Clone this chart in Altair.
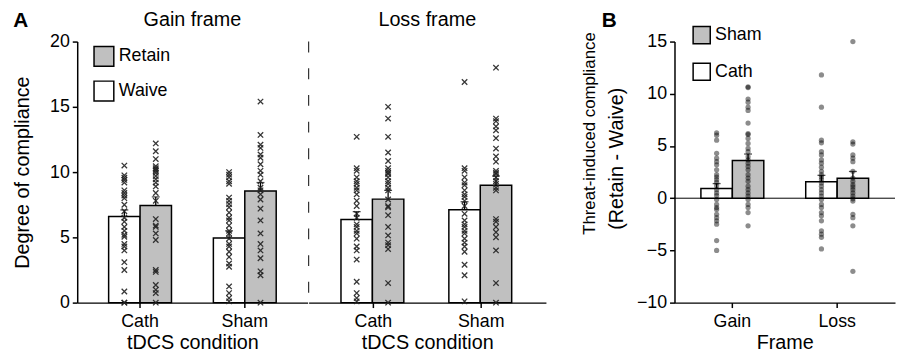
import altair as alt
import pandas as pd

FONT = "Liberation Sans"
GRAY = "#c0c0c0"
XSHAPE = "M-1,-1L1,1M-1,1L1,-1"

# ---------------- Panel A data ----------------
A_frame = ["Gain", "Gain", "Gain", "Gain", "Loss", "Loss", "Loss", "Loss"]
A_cond = ["Cath", "Cath", "Sham", "Sham", "Cath", "Cath", "Sham", "Sham"]
A_choice = ["Waive", "Retain", "Waive", "Retain", "Waive", "Retain", "Waive", "Retain"]
A_mean = [6.6, 7.45, 4.95, 8.55, 6.36, 7.93, 7.12, 9.0]
A_se = [0.5, 0.65, 0.55, 0.65, 0.61, 0.67, 0.61, 0.7]

gain_cath_waive = [10.5, 9.75, 9.57, 9.4, 9.2, 8.6, 8.4, 8.2, 8.0, 7.5, 7.0, 6.5, 6.2, 5.8, 5.5, 5.2, 5.05, 4.5, 4.3, 4.0, 3.1, 2.5, 0.85, 0.0, 0.0]
gain_cath_retain = [12.2, 11.6, 11.0, 10.45, 10.3, 10.2, 10.1, 9.95, 9.7, 9.45, 9.2, 8.9, 8.4, 7.8, 6.4, 5.9, 5.8, 5.3, 4.8, 2.5, 2.35, 1.35, 0.98, 0.73, 0.0]
gain_sham_waive = [10.0, 9.8, 9.6, 9.3, 9.1, 8.05, 7.8, 7.55, 7.3, 6.9, 6.5, 6.3, 5.9, 5.5, 5.3, 4.9, 4.5, 4.3, 3.9, 3.5, 3.0, 2.75, 1.24, 0.73, 0.35, 0.1]
gain_sham_retain = [15.4, 12.85, 12.1, 11.85, 11.35, 11.1, 10.6, 10.1, 9.8, 9.3, 8.8, 8.6, 8.3, 7.9, 7.2, 6.3, 5.3, 4.5, 4.0, 3.4, 2.4, 2.1, 0.0]
loss_cath_waive = [12.7, 10.3, 10.1, 9.6, 9.3, 9.1, 8.8, 8.6, 8.3, 7.8, 7.4, 6.8, 6.5, 6.0, 5.8, 5.5, 5.3, 4.9, 4.3, 4.0, 3.3, 1.6, 0.73, 0.35, 0.1]
loss_cath_retain = [15.0, 14.1, 12.7, 11.5, 10.85, 10.3, 10.1, 9.95, 9.85, 9.6, 9.3, 9.1, 8.8, 8.6, 7.9, 7.4, 7.3, 6.7, 5.8, 5.15, 4.6, 4.4, 4.1, 1.5, 0.0]
loss_sham_waive = [16.9, 10.3, 10.1, 9.6, 9.2, 9.0, 8.6, 8.3, 8.1, 7.8, 7.4, 6.8, 6.3, 6.0, 5.8, 5.5, 5.3, 4.9, 4.6, 4.3, 3.9, 2.9, 2.1, 0.1]
loss_sham_retain = [18.0, 14.1, 13.9, 13.5, 13.2, 12.6, 11.8, 11.2, 10.8, 10.1, 9.95, 9.85, 9.6, 9.3, 9.1, 8.8, 8.6, 6.4, 6.2, 5.8, 5.4, 5.0, 4.0, 1.5, 0.0]
A_points = [gain_cath_waive, gain_cath_retain, gain_sham_waive, gain_sham_retain,
            loss_cath_waive, loss_cath_retain, loss_sham_waive, loss_sham_retain]

# ---------------- Panel B data ----------------
B_frame = ["Gain", "Gain", "Loss", "Loss"]
B_cond = ["Cath", "Sham", "Cath", "Sham"]
B_mean = [0.92, 3.6, 1.58, 1.9]
B_se = [0.48, 0.63, 0.61, 0.66]

b_gain_cath = [6.26, 6.04, 5.56, 4.3, 3.83, 3.5, 3.2, 2.72, 2.25, 2.03, 1.77, 1.52, 1.2, 0.82, 0.51, 0.25, -0.12, -0.6, -0.9, -1.07, -1.54, -1.86, -2.17, -2.49, -4.06, -5.0]
b_gain_sham = [10.67, 10.6, 9.5, 9.2, 8.72, 8.4, 7.2, 6.19, 6.1, 5.72, 5.25, 4.77, 4.46, 3.98, 3.67, 3.35, 3.04, 2.72, 2.25, 1.93, 1.62, 1.15, 0.83, 0.51, 0.2, -0.12, -0.6, -0.9, -1.38, -2.64]
b_loss_cath = [11.8, 8.72, 5.56, 5.3, 4.46, 4.14, 3.67, 3.35, 2.97, 2.57, 2.25, 2.03, 1.77, 1.46, 1.15, 0.82, 0.51, 0.2, -0.12, -0.6, -0.9, -1.38, -1.69, -2.17, -3.12, -3.44, -3.75, -4.86]
b_loss_sham = [15.0, 5.4, 5.18, 4.14, 3.83, 3.5, 2.57, 1.93, 1.62, 1.3, 1.08, 0.82, 0.51, 0.2, -0.06, -0.27, -1.54, -1.86, -2.64, -7.0]
B_points = [b_gain_cath, b_gain_sham, b_loss_cath, b_loss_sham]

# ---------------- tables ----------------
dfA = pd.DataFrame({"frame": A_frame, "cond": A_cond, "choice": A_choice,
                    "mean": A_mean, "se": A_se})
dfA["top"] = dfA["mean"] + dfA["se"]
ptsA = pd.DataFrame([{"frame": f, "cond": c, "choice": ch, "value": v}
                     for f, c, ch, vals in zip(A_frame, A_cond, A_choice, A_points)
                     for v in vals])

dfB = pd.DataFrame({"frame": B_frame, "cond": B_cond, "mean": B_mean, "se": B_se})
dfB["top"] = dfB["mean"] + dfB["se"]
ptsB = pd.DataFrame([{"frame": f, "cond": c, "value": v}
                     for f, c, vals in zip(B_frame, B_cond, B_points)
                     for v in vals])

H = 264
BW = 223


def label_layer(text, x, y, size=21, weight="bold", angle=0):
    return alt.Chart(pd.DataFrame({"t": [text]})).mark_text(
        font=FONT, fontSize=size, fontWeight=weight, angle=angle,
        align="center", baseline="middle", color="black"
    ).encode(text="t:N", x=alt.value(x), y=alt.value(y))


def panel_a(frame, width, first):
    bars = dfA[dfA.frame == frame]
    pts = ptsA[ptsA.frame == frame]
    xenc = alt.X("cond:N", sort=["Cath", "Sham"],
                 scale=alt.Scale(domain=["Cath", "Sham"], paddingInner=0.4, paddingOuter=0.3),
                 axis=alt.Axis(title="tDCS condition", labelAngle=0, labelPadding=5,
                               titlePadding=2))
    xo = alt.XOffset("choice:N", sort=["Waive", "Retain"],
                     scale=alt.Scale(domain=["Waive", "Retain"]))
    yscale = alt.Scale(domain=[0, 20], nice=False)
    if first:
        yaxis = alt.Axis(title="Degree of compliance", values=[0, 5, 10, 15, 20],
                         labelPadding=3, titlePadding=17)
        legend = alt.Legend(title=None, orient="none", legendX=16, legendY=4,
                            symbolType="square", symbolSize=400,
                            symbolStrokeColor="black", symbolStrokeWidth=1.5,
                            symbolOpacity=1, labelFontSize=18, labelOffset=4,
                            rowPadding=9, padding=0, labelFont=FONT)
    else:
        yaxis = None
        legend = None

    def Y(field):
        return alt.Y(f"{field}:Q", scale=yscale, axis=yaxis)

    bar = alt.Chart(bars).mark_bar(stroke="black", strokeWidth=1.5).encode(
        x=xenc, xOffset=xo, y=Y("mean"),
        fill=alt.Fill("choice:N", scale=alt.Scale(domain=["Retain", "Waive"],
                                                  range=[GRAY, "white"]),
                      legend=legend))
    err = alt.Chart(bars).mark_rule(color="black", strokeWidth=1.3).encode(
        x=xenc, xOffset=xo, y=Y("mean"), y2="top:Q")
    cap = alt.Chart(bars).mark_tick(color="black", thickness=1.3, size=8).encode(
        x=xenc, xOffset=xo, y=Y("top"))
    dots = alt.Chart(pts).mark_point(shape=XSHAPE, filled=False, stroke="#222222",
                                     strokeWidth=1.3, size=30, opacity=0.9).encode(
        x=xenc, xOffset=xo, y=Y("value"))
    layers = [bar, err, cap, dots,
              label_layer(f"{frame} frame", width / 2, -22, size=20, weight="normal")]
    if first:
        layers.append(label_layer("A", -57, -21))
    else:
        layers.insert(0, alt.Chart(pd.DataFrame({"a": [0]})).mark_rule(
            strokeDash=[11, 16], color="#333333", strokeWidth=1.2).encode(
            x=alt.value(0), y=alt.value(0), y2=alt.value(H)))
    return alt.layer(*layers).properties(width=width, height=H)


def panel_b():
    xenc = alt.X("frame:N", sort=["Gain", "Loss"],
                 scale=alt.Scale(domain=["Gain", "Loss"], paddingInner=0.4,
                                 paddingOuter=0.252),
                 axis=alt.Axis(title="Frame", labelAngle=0, labelPadding=5, titlePadding=2))
    xo = alt.XOffset("cond:N", sort=["Cath", "Sham"],
                     scale=alt.Scale(domain=["Cath", "Sham"]))
    yscale = alt.Scale(domain=[-10, 15], nice=False)
    yaxis = alt.Axis(title="(Retain - Waive)", values=[-10, -5, 0, 5, 10, 15],
                     labelPadding=3, titlePadding=10, titleY=118)
    legend = alt.Legend(title=None, orient="none", legendX=18, legendY=-16,
                        symbolType="square", symbolSize=300,
                        symbolStrokeColor="black", symbolStrokeWidth=1.5,
                        symbolOpacity=1, labelFontSize=18, labelOffset=4,
                        rowPadding=12, padding=0, labelFont=FONT)

    def Y(field):
        return alt.Y(f"{field}:Q", scale=yscale, axis=yaxis)

    zero = alt.Chart(pd.DataFrame({"z": [0]})).mark_rule(color="black", strokeWidth=1).encode(
        y=alt.Y("z:Q", scale=yscale, axis=yaxis))
    bar = alt.Chart(dfB).mark_bar(stroke="black", strokeWidth=1.5).encode(
        x=xenc, xOffset=xo, y=Y("mean"),
        fill=alt.Fill("cond:N", scale=alt.Scale(domain=["Sham", "Cath"],
                                                range=[GRAY, "white"]),
                      legend=legend))
    err = alt.Chart(dfB).mark_rule(color="black", strokeWidth=1.3).encode(
        x=xenc, xOffset=xo, y=Y("mean"), y2="top:Q")
    cap = alt.Chart(dfB).mark_tick(color="black", thickness=1.3, size=8).encode(
        x=xenc, xOffset=xo, y=Y("top"))
    dots = alt.Chart(ptsB).mark_circle(color="black", opacity=0.45, size=28).encode(
        x=xenc, xOffset=xo, y=Y("value"))
    line1 = label_layer("Threat-induced compliance", -85, 93, size=17, weight="normal", angle=270)
    letter = label_layer("B", -66, -21)
    return alt.layer(zero, bar, err, cap, dots, line1, letter).properties(width=BW, height=H)


panelA = alt.hconcat(panel_a("Gain", 233, True), panel_a("Loss", 240, False),
                     spacing=0).resolve_scale(fill="independent")

chart = alt.hconcat(panelA, panel_b(), spacing=36).resolve_scale(
    fill="independent", xOffset="independent"
).properties(
    padding={"left": 4, "top": 0, "right": 0, "bottom": 0}
).configure(font=FONT).configure_view(stroke=None).configure_axis(
    grid=False, domainColor="black", tickColor="black", labelColor="black",
    titleColor="black", labelFont=FONT, titleFont=FONT, labelFontSize=18,
    titleFontSize=20, titleFontWeight="normal", tickSize=5, domainWidth=1.5,
    tickWidth=1.5
)

chart.save("out.html", embed_options={"renderer": "svg", "actions": False})
